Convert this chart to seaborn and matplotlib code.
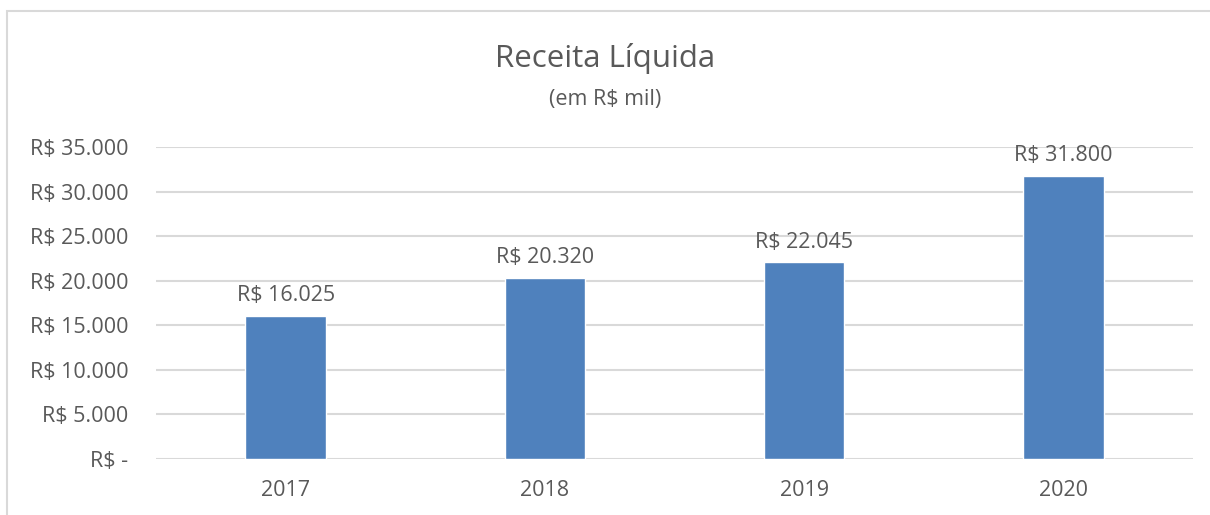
import pandas as pd
import seaborn as sns
import matplotlib.pyplot as plt
from matplotlib.patches import Rectangle

# Data
anos = ['2017', '2018', '2019', '2020']
receita = [16025, 20320, 22045, 31800]

df = pd.DataFrame({'Ano': anos, 'Receita': receita})


def brl(v):
    if v == 0:
        return 'R$ -'
    return 'R$ ' + f'{v:,.0f}'.replace(',', '.')


sns.set_style('white')
plt.rcParams['font.family'] = ['Open Sans', 'DejaVu Sans']
text_color = '#595959'

fig = plt.figure(figsize=(12.1, 5.15), dpi=100)
ax = fig.add_axes([156 / 1210, 1 - 459 / 515, 1037 / 1210, 312 / 515])

sns.barplot(data=df, x='Ano', y='Receita', color='#4F81BD', saturation=1,
            width=0.31, ax=ax, zorder=3)

ax.set_ylim(0, 35000)
ax.set_yticks(range(0, 35001, 5000))
ax.set_yticklabels([brl(v) for v in range(0, 35001, 5000)])
ax.grid(axis='y', color='#D9D9D9', linewidth=1.5, zorder=0)
ax.set_axisbelow(True)
for s in ax.spines.values():
    s.set_visible(False)
ax.tick_params(axis='both', length=0, labelsize=15.5, colors=text_color)
ax.tick_params(axis='y', pad=20)
ax.tick_params(axis='x', pad=15)
ax.set_xlabel('')
ax.set_ylabel('')

# data labels
for c in ax.containers:
    ax.bar_label(c, labels=[brl(v) for v in receita], padding=7,
                 fontsize=15.5, color=text_color)

fig.text(0.5, 1 - 59 / 515, 'Receita Líquida', ha='center', va='center',
         fontsize=22.5, color=text_color)
fig.text(0.5, 1 - 99 / 515, '(em R$ mil)', ha='center', va='center',
         fontsize=15.5, color=text_color)

# chart border
fig.patches.append(Rectangle((7 / 1210, -0.05), 1.1, 1 - 11 / 515 + 0.05,
                             transform=fig.transFigure, fill=False,
                             edgecolor='#D9D9D9', linewidth=1.5))

fig.savefig('out.png', dpi=100)
